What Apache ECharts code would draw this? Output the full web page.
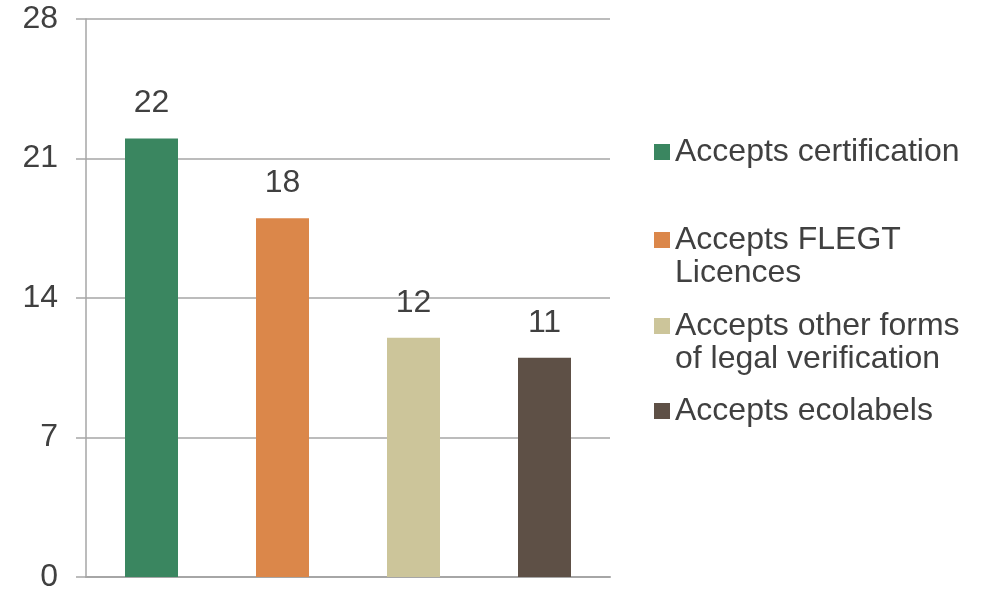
<!DOCTYPE html>
<html>
<head>
<meta charset="utf-8">
<script src="https://cdn.jsdelivr.net/npm/echarts@6/dist/echarts.min.js"></script>
<style>html,body{margin:0;padding:0;background:#fff}#c{width:991px;height:593px}</style>
</head>
<body>
<div id="c"></div>
<script>
const categories = ['Accepts certification', 'Accepts FLEGT Licences', 'Accepts other forms of legal verification', 'Accepts ecolabels'];
const legendLabels = ['Accepts certification', 'Accepts FLEGT\nLicences', 'Accepts other forms\nof legal verification', 'Accepts ecolabels'];
const values = [22, 18, 12, 11];
const colors = ['#3A8660', '#DB874A', '#CCC59A', '#5E5046'];
const yTicks = [0, 7, 14, 21, 28];

const FONT = 'Liberation Sans, Arial, sans-serif';
const TXT = '#404040';

const series = categories.map((name, i) => ({
  name: name,
  type: 'bar',
  stack: 'all',
  barWidth: 53,
  itemStyle: { color: colors[i] },
  label: { show: true, position: 'top', distance: 19, color: TXT, fontSize: 32, fontFamily: FONT },
  data: categories.map((c, j) => j === i ? values[i] : '-')
}));

const legendTops = [135.5, 190.5, 276.5, 394.5];
const legends = categories.map((name, i) => {
  const multi = legendLabels[i].indexOf('\n') >= 0;
  return {
    orient: 'vertical',
    left: 654,
    top: legendTops[i],
    padding: 0,
    icon: 'rect',
    itemWidth: 16,
    itemHeight: 16,
    selectedMode: false,
    data: [name],
    formatter: () => (multi ? '\n' : '') + legendLabels[i],
    textStyle: { color: TXT, fontSize: 32, fontFamily: FONT, lineHeight: 33 }
  };
});

const chart = echarts.init(document.getElementById('c'), null, { renderer: 'canvas' });
chart.setOption({
  animation: false,
  backgroundColor: '#fff',
  legend: legends,
  grid: { left: 86, right: 381, top: 19, bottom: 10, containLabel: false },
  xAxis: {
    type: 'category',
    data: categories,
    axisLine: { show: true, lineStyle: { color: '#A6A6A6', width: 2 } },
    axisTick: { show: false },
    axisLabel: { show: false }
  },
  yAxis: {
    type: 'value',
    min: yTicks[0],
    max: yTicks[yTicks.length - 1],
    interval: 7,
    axisLine: { show: true, lineStyle: { color: '#A6A6A6', width: 1.5 } },
    axisTick: { show: true, length: 10, lineStyle: { color: '#A6A6A6', width: 1.5 } },
    axisLabel: { color: TXT, fontSize: 32, fontFamily: FONT, margin: 28 },
    splitLine: { show: true, lineStyle: { color: '#A6A6A6', width: 1.5 } }
  },
  series: series
});
</script>
</body>
</html>
